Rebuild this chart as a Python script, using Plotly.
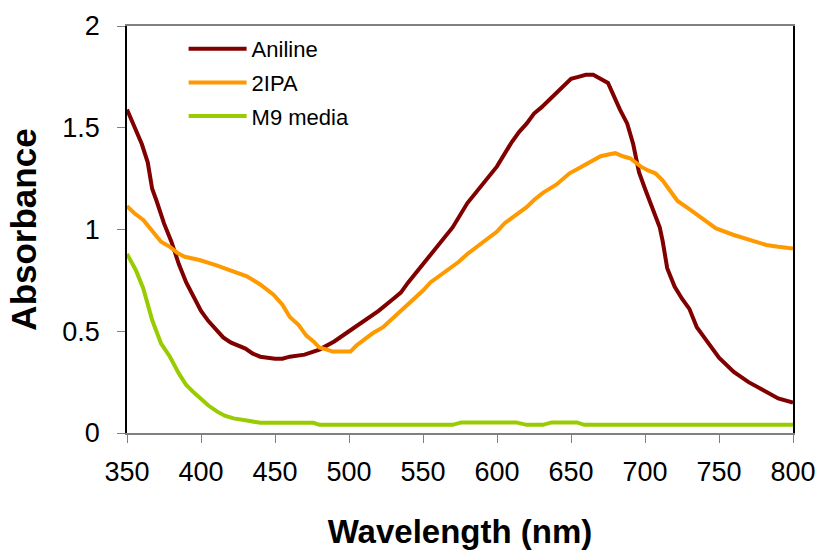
import plotly.graph_objects as go

# Data
aniline_x = [350,355,360,364,367,370,375,380,385,390,395,400,405,410,415,420,425,430,435,440,450,455,460,470,480,490,500,510,520,530,535,540,550,560,570,580,590,600,610,615,620,625,630,640,650,655,660,665,670,675,683,688,692,696,700,705,710,712,715,720,725,730,735,740,750,760,770,780,790,800]
aniline_y = [1.59,1.50,1.42,1.33,1.20,1.14,1.03,0.94,0.83,0.74,0.67,0.60,0.55,0.51,0.47,0.445,0.43,0.415,0.39,0.375,0.365,0.365,0.375,0.385,0.41,0.45,0.50,0.55,0.60,0.66,0.69,0.74,0.83,0.92,1.01,1.13,1.22,1.31,1.43,1.48,1.52,1.57,1.60,1.67,1.74,1.75,1.76,1.76,1.74,1.72,1.59,1.52,1.42,1.28,1.20,1.11,1.01,0.94,0.81,0.72,0.66,0.61,0.52,0.47,0.37,0.30,0.25,0.21,0.17,0.15]

ipa_x = [350,355,361,367,373,379,384,389,399,410,420,431,440,449,455,460,466,471,476,480,485,489,495,501,505,510,516,523,529,535,542,550,555,561,568,574,580,590,600,605,611,620,625,631,640,649,655,661,670,676,680,685,690,697,702,707,712,715,722,730,740,748,760,770,782,790,800]
ipa_y = [1.115,1.08,1.047,0.99,0.94,0.915,0.885,0.866,0.85,0.825,0.80,0.77,0.73,0.68,0.63,0.57,0.53,0.48,0.45,0.42,0.41,0.40,0.40,0.40,0.43,0.457,0.49,0.52,0.56,0.60,0.65,0.70,0.74,0.77,0.81,0.84,0.88,0.935,0.99,1.03,1.06,1.11,1.145,1.18,1.22,1.276,1.30,1.325,1.36,1.37,1.375,1.36,1.35,1.31,1.29,1.276,1.24,1.21,1.14,1.10,1.05,1.005,0.973,0.95,0.924,0.915,0.907]

m9_x = [350,356,361,365,367,373,379,385,390,395,400,405,411,416,422,427,432,440,476,480,570,576,613,620,631,637,654,659,800]
m9_y = [0.88,0.80,0.71,0.60,0.555,0.44,0.375,0.293,0.236,0.20,0.165,0.135,0.105,0.085,0.072,0.064,0.06,0.05,0.05,0.04,0.04,0.052,0.052,0.04,0.04,0.052,0.052,0.04,0.04]

series = [
    ("Aniline", aniline_x, aniline_y, "#800000"),
    ("2IPA", ipa_x, ipa_y, "#FF9900"),
    ("M9 media", m9_x, m9_y, "#99CC00"),
]

x_ticks = [350, 400, 450, 500, 550, 600, 650, 700, 750, 800]
y_ticks = [0, 0.5, 1, 1.5, 2]
y_ticktext = ["0", "0.5", "1", "1.5", "2"]

fig = go.Figure()
for i, (name, xs, ys, col) in enumerate(series):
    fig.add_trace(go.Scatter(x=xs, y=ys, mode="lines", name=name,
                             legendgroup=f"g{i}",
                             line=dict(color=col, width=4)))

font_family = "Arial, Liberation Sans, sans-serif"
fig.update_layout(
    width=822, height=550,
    margin=dict(l=127, r=29, t=26, b=117, autoexpand=False),
    paper_bgcolor="white", plot_bgcolor="white",
    font=dict(family=font_family, color="black"),
    showlegend=True,
    legend=dict(x=0.085, y=0.995, xanchor="left", yanchor="top",
                font=dict(size=22, color="black"), bgcolor="rgba(0,0,0,0)",
                tracegroupgap=2, itemwidth=58),
    xaxis=dict(range=[350, 800], tickvals=x_ticks, ticks="outside", ticklen=8,
               tickcolor="#808080", linecolor="#808080", linewidth=2,
               mirror=True, showgrid=False, zeroline=False, automargin=False,
               tickfont=dict(size=27), ticklabelstandoff=6,
               title=dict(text="<b>Wavelength (nm)</b>", font=dict(size=33), standoff=36)),
    yaxis=dict(range=[0, 2], tickvals=y_ticks, ticktext=y_ticktext, ticks="outside",
               ticklen=8, tickcolor="#808080", linecolor="black", linewidth=1.5,
               mirror=True, showgrid=False, zeroline=False, automargin=False,
               tickfont=dict(size=27), ticklabelstandoff=12,
               title=dict(text="<b>Absorbance</b>", font=dict(size=35), standoff=15)),
)

fig.write_html("out.html")
